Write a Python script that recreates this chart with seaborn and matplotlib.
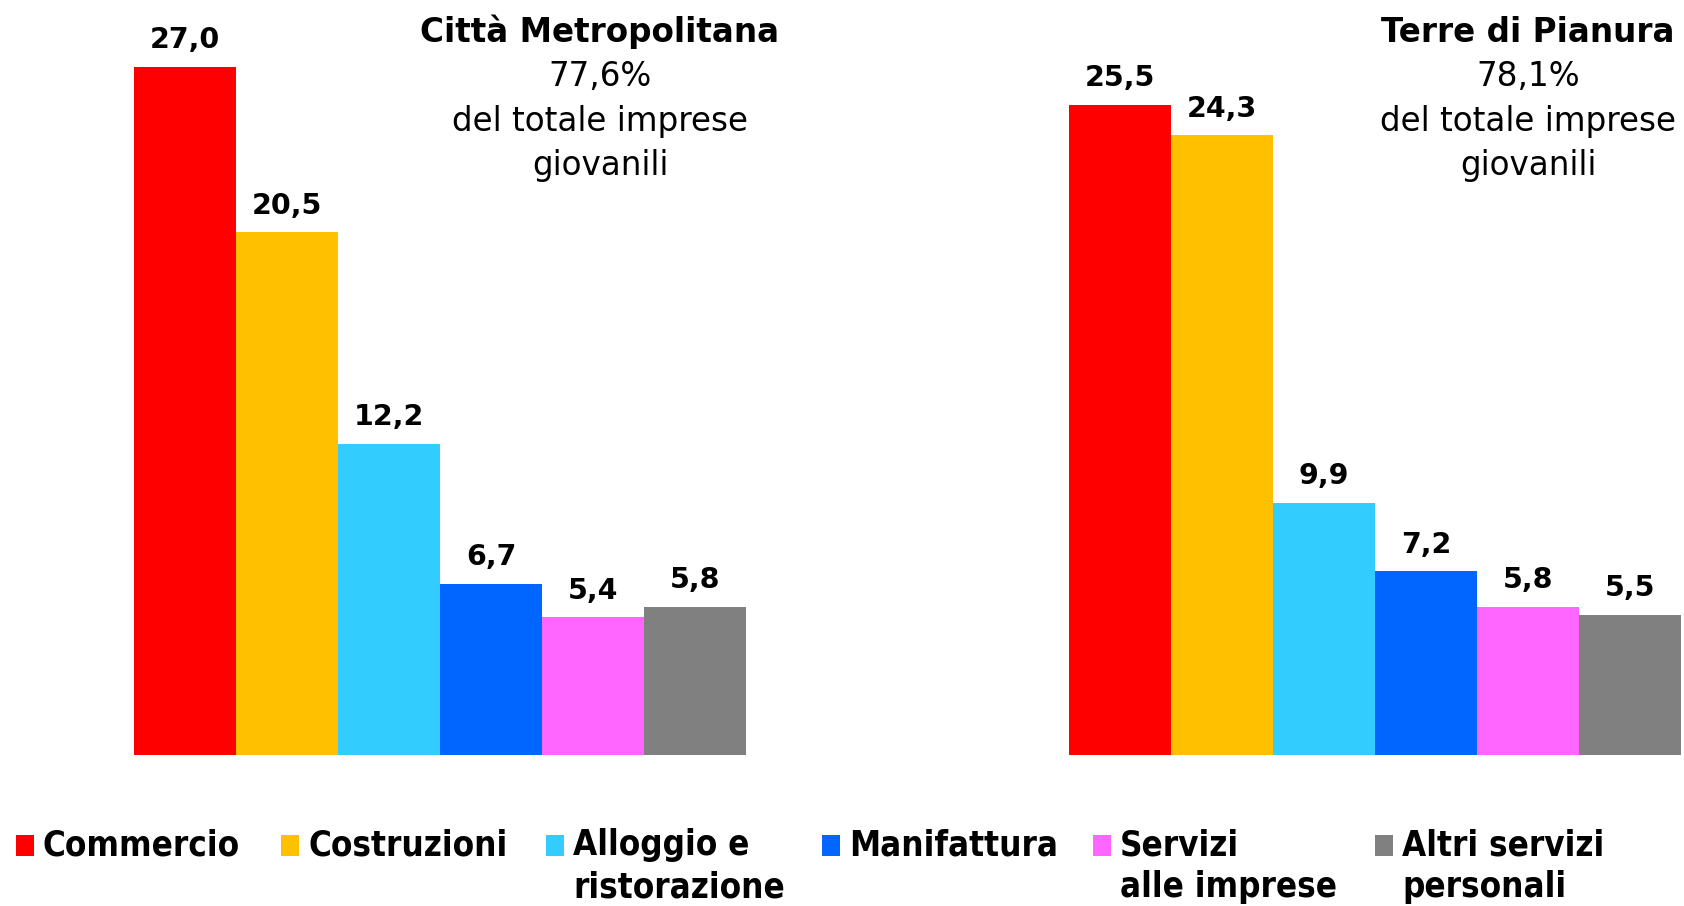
import matplotlib
matplotlib.use("Agg")
import matplotlib.pyplot as plt
import seaborn as sns
import pandas as pd
from matplotlib.patches import Rectangle

categories = ["Commercio", "Costruzioni", "Alloggio e ristorazione", "Manifattura",
              "Servizi alle imprese", "Altri servizi personali"]
legend_labels = ["Commercio", "Costruzioni", "Alloggio e\nristorazione", "Manifattura",
                 "Servizi\nalle imprese", "Altri servizi\npersonali"]
citta_values = [27.0, 20.5, 12.2, 6.7, 5.4, 5.8]
terre_values = [25.5, 24.3, 9.9, 7.2, 5.8, 5.5]
colors = ["#FF0000", "#FFC000", "#33CCFF", "#0066FF", "#FF66FF", "#808080"]
panel_titles = ["Città Metropolitana", "Terre di Pianura"]
panel_shares = ["77,6%", "78,1%"]
panel_sub = ["del totale imprese", "giovanili"]

sns.set_theme(style="white")
plt.rcParams['font.family'] = ['DejaVu Sans']

W, H = 1684, 906
fig = plt.figure(figsize=(W / 100, H / 100), dpi=100)

def fx(px):
    return px / W

def fy(py_from_top):
    return 1 - py_from_top / H

base = 755
top_val = 28.0
scale = 25.5
ax_h = top_val * scale
axes_pos = [(134, 612), (1069, 612)]
panels = [citta_values, terre_values]
title_cx = [600, 1528]

for (x0, w), vals, tcx, title, share in zip(axes_pos, panels, title_cx, panel_titles, panel_shares):
    ax = fig.add_axes([fx(x0), (H - base) / H, fx(w), ax_h / H])
    df = pd.DataFrame({"cat": categories, "val": vals})
    sns.barplot(data=df, x="cat", y="val", hue="cat", palette=colors, width=1.0,
                saturation=1, legend=False, ax=ax, order=categories, hue_order=categories,
                linewidth=0, edgecolor="none")
    ax.set_xlim(-0.5, 5.5)
    ax.set_ylim(0, top_val)
    ax.axis("off")
    for i, v in enumerate(vals):
        ax.annotate(f"{v:.1f}".replace(".", ","), xy=(i, v), xytext=(0, 13.5),
                    textcoords="offset points", ha="center", va="baseline",
                    fontsize=20.5, fontweight="bold", color="black", annotation_clip=False)
    fig.text(fx(tcx), fy(32), title, ha="center", va="center", fontsize=23.5,
             fontweight="bold", color="black")
    fig.text(fx(tcx), fy(77), share, ha="center", va="center", fontsize=23.5, color="black")
    fig.text(fx(tcx), fy(121), panel_sub[0], ha="center", va="center", fontsize=23.5, color="black")
    fig.text(fx(tcx), fy(166), panel_sub[1], ha="center", va="center", fontsize=23.5, color="black")

# legend
leg_x = [16, 281, 546, 822, 1093, 1375]
for lx, lab, c in zip(leg_x, legend_labels, colors):
    fig.add_artist(Rectangle((fx(lx), fy(856)), fx(18), 21 / H, transform=fig.transFigure,
                             facecolor=c, edgecolor="none"))
    lines = lab.split("\n")
    for k, line in enumerate(lines):
        fig.text(fx(lx + 27), fy(845 + 42 * k), line, ha="left", va="center",
                 fontsize=25, fontweight="bold", fontstretch="condensed", color="black")

fig.savefig("out.png", dpi=100, facecolor="white")
